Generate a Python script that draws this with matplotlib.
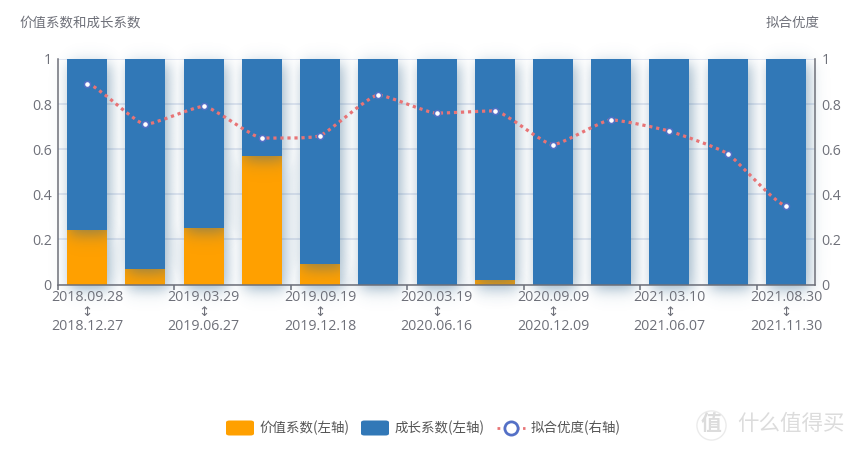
import numpy as np
import matplotlib
matplotlib.use("Agg")
import matplotlib.pyplot as plt
from matplotlib.path import Path
from matplotlib.patches import PathPatch, FancyBboxPatch
from matplotlib.lines import Line2D

plt.rcParams['font.family'] = ['Noto Sans CJK SC', 'DejaVu Sans']

start_labels = ["2018.09.28", "2019.03.29", "2019.09.19", "2020.03.19", "2020.09.09", "2021.03.10", "2021.08.30"]
end_labels = ["2018.12.27", "2019.06.27", "2019.12.18", "2020.06.16", "2020.12.09", "2021.06.07", "2021.11.30"]
value_coef = [0.24, 0.07, 0.25, 0.57, 0.09, 0, 0, 0.02, 0, 0, 0, 0, 0]
fit_quality = [0.89, 0.71, 0.79, 0.65, 0.66, 0.84, 0.76, 0.77, 0.62, 0.73, 0.68, 0.58, 0.35]
yticks = [0, 0.2, 0.4, 0.6, 0.8, 1]
ytick_labels = ["0", "0.2", "0.4", "0.6", "0.8", "1"]

ORANGE = "#ffa000"
BLUE = "#3178b7"
TXT = "#6e7079"
GRID = "#e0e6f1"
RED = "#e87476"
MARK = "#5470c6"
NUMFONT = ['Open Sans', 'DejaVu Sans']

W, H = 863, 451
fig = plt.figure(figsize=(W / 100, H / 100), dpi=100)
L, R, T, B = 58, 815, 59, 284.5
ax = fig.add_axes([L / W, 1 - B / H, (R - L) / W, (B - T) / H])

n = len(value_coef)
x = np.arange(n)
value = np.array(value_coef, float)
growth = 1 - value
bw = 40 / ((R - L) / n)
xlim = (-0.5, n - 0.5)
ax.set_xlim(*xlim)
ax.set_ylim(0, 1)
ux = (R - L) / n
uy = B - T


def shadow_image(bottoms, heights, zorder, strength):
    nx, ny = 900, 330
    xs = np.linspace(-0.8, n + 0.3, nx)
    ys = np.linspace(-0.2, 1.1, ny)
    X, Y = np.meshgrid(xs, ys)
    dx, dy, s = 2 / ux, 5 / uy, 9.0
    a = np.zeros_like(X)
    F = lambda u: 0.5 * (1 + np.tanh(u))
    for xi, b, h in zip(x, bottoms, heights):
        if h <= 0:
            continue
        ax_ = F((X - (xi - bw / 2 + dx)) * ux / s) - F((X - (xi + bw / 2 + dx)) * ux / s)
        ay_ = F((Y - (b - dy)) * uy / s) - F((Y - (b + h - dy)) * uy / s)
        a = np.maximum(a, ax_ * ay_)
    img = np.zeros((ny, nx, 4))
    img[..., :3] = np.array([0.20, 0.40, 0.55])
    img[..., 3] = a * strength
    ax.imshow(img, extent=(xs[0], xs[-1], ys[0], ys[-1]), origin="lower",
              aspect="auto", zorder=zorder, clip_on=False, interpolation="bilinear")


for v in yticks:
    ax.axhline(v, color=GRID, lw=1.3, zorder=1)

shadow_image(np.zeros(n), value, 2, 0.5)
ax.bar(x, value, bw, color=ORANGE, zorder=3, linewidth=0)
shadow_image(value, growth, 4, 0.5)
ax.bar(x, growth, bw, bottom=value, color=BLUE, zorder=5, linewidth=0)
ax.set_xlim(*xlim)
ax.set_ylim(0, 1)

verts = [(x[0], fit_quality[0])]
codes = [Path.MOVETO]
k = 0.16


def slope(i):
    if i == 0 or i == n - 1:
        return 0.0
    d0, d1 = fit_quality[i] - fit_quality[i - 1], fit_quality[i + 1] - fit_quality[i]
    return 0.0 if d0 * d1 <= 0 else (d0 + d1) / 2


for i in range(n - 1):
    y1, y2 = fit_quality[i], fit_quality[i + 1]
    verts += [(x[i] + k, y1 + slope(i) * k), (x[i + 1] - k, y2 - slope(i + 1) * k), (x[i + 1], y2)]
    codes += [Path.CURVE4] * 3
ax.add_patch(PathPatch(Path(verts, codes), fill=False, edgecolor=RED, lw=2.3,
                       linestyle=(0, (1, 1.2)), zorder=6, capstyle="butt"))
ax.plot(x, fit_quality, ls="none", marker="o", ms=4.4, mfc="white", mec=MARK, mew=1.1, zorder=7)

ax.spines["top"].set_visible(False)
for s in ["left", "right", "bottom"]:
    ax.spines[s].set_color(TXT)
    ax.spines[s].set_linewidth(1.1)
    ax.spines[s].set_zorder(8)
ax.set_xticks(np.arange(-0.5, n, 2))
ax.set_xticklabels([])
ax.tick_params(axis="x", length=3.8, width=1.1, color=TXT)
ax.set_yticks(yticks)
ax.set_yticklabels(ytick_labels, family=NUMFONT)
ax.tick_params(axis="y", length=0, pad=4.5, labelsize=10.2, labelcolor=TXT)
ax2 = ax.twinx()
ax2.set_ylim(0, 1)
ax2.set_yticks(yticks)
ax2.set_yticklabels(ytick_labels, family=NUMFONT)
ax2.tick_params(axis="y", length=0, pad=4.5, labelsize=10.2, labelcolor=TXT)
for s in ax2.spines.values():
    s.set_visible(False)


def t(xp, yp, s, size=10.2, color=TXT, ha="center", **kw):
    return fig.text(xp / W, 1 - yp / H, s, fontsize=size, color=color, ha=ha, va="center", **kw)


for i, (a, b) in enumerate(zip(start_labels, end_labels)):
    xp = L + (2 * i + 0.5) * ux
    t(xp, 297.5, a, family=NUMFONT)
    t(xp, 312, "↕", size=9.5, family=['DejaVu Sans'])
    t(xp, 326, b, family=NUMFONT)

t(19, 22.5, "价值系数和成长系数", size=9.7, ha="left")
t(820, 22.5, "拟合优度", size=9.7, ha="right")

for xp, col in [(226, ORANGE), (361, BLUE)]:
    fig.add_artist(FancyBboxPatch((xp / W, 1 - 435.5 / H), 28 / W, 15 / H,
                                  boxstyle="round,pad=0,rounding_size=0.004",
                                  transform=fig.transFigure, fc=col, ec="none"))
t(260, 427.5, "价值系数(左轴)", size=9.7, color="#555555", ha="left")
t(395, 427.5, "成长系数(左轴)", size=9.7, color="#555555", ha="left")
fig.add_artist(Line2D([497 / W, 525 / W], [1 - 428 / H] * 2, color=RED, lw=2,
                      linestyle=(0, (1, 1.3)), transform=fig.transFigure))
fig.add_artist(Line2D([511 / W], [1 - 428 / H], marker="o", ms=9.5, mfc="white", mec=MARK, mew=2,
                      transform=fig.transFigure))
t(531, 427.5, "拟合优度(右轴)", size=9.7, color="#555555", ha="left")

WM = "#dcdcdc"
t(711, 424, "值", size=15, color=WM, fontweight="bold")
fig.add_artist(Line2D([711 / W], [1 - 425 / H], marker="o", ms=21, mfc="none", mec="#ebebeb", mew=1,
                      transform=fig.transFigure))
t(737, 424, "什么值得买", size=15.5, color=WM, ha="left")

fig.savefig("out.png", dpi=100)
